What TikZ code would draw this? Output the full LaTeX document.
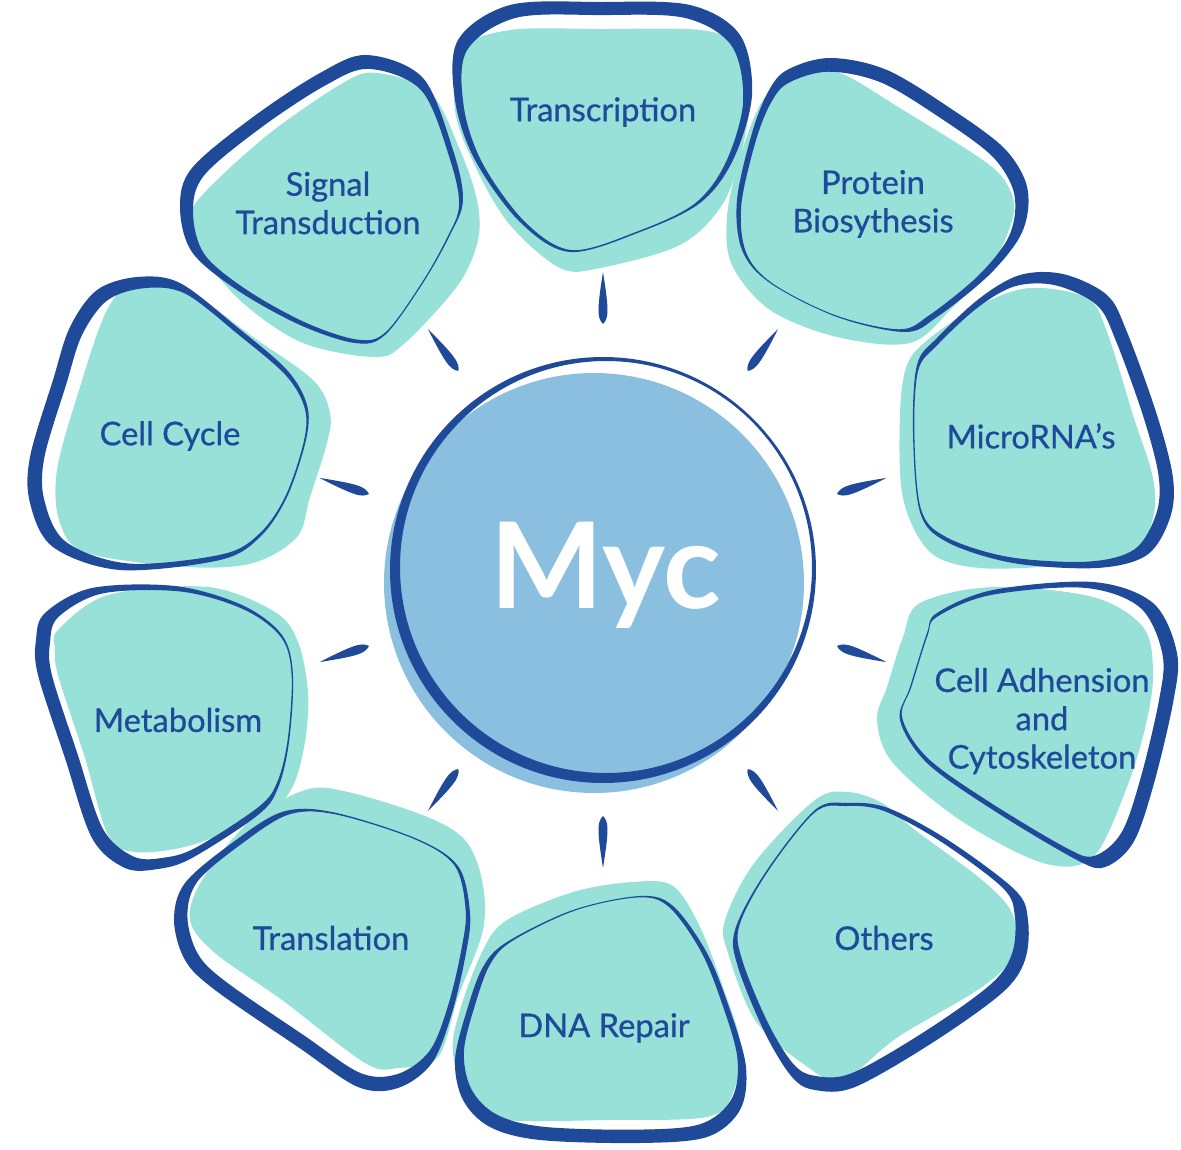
\documentclass[tikz,border=0pt]{standalone}
\usepackage{fontspec}
\setmainfont{Lato}
\newfontfamily\lblfont{Lato}[FakeBold=0.7]
\usetikzlibrary{calc}

\definecolor{mycblue}{HTML}{1F4A9A}
\definecolor{blobteal}{HTML}{97E1D9}
\definecolor{hubblue}{HTML}{8BBFE0}

% #1 angle of the blob, #2 teal patch, #3 brush outline
\newcommand{\blobshape}[3]{%
\fill [blobfill] plot [smooth cycle,tension=.55] coordinates {#2};
\fill [blobline,even odd rule] plot [smooth cycle,tension=.55] coordinates {#3}
  {[scale around={.94:($(hub)+({-(#1)}:350)$)}] plot [smooth cycle,tension=.55] coordinates {#3}};
}

\begin{document}
\begin{tikzpicture}[x=0.1mm,y=-0.1mm,
  blobfill/.style={fill=blobteal},
  blobline/.style={fill=mycblue},
  spoke/.style={fill=mycblue},
  lbl/.style={text=mycblue,align=center,font=\lblfont\fontsize{9.3}{10.9}\selectfont}]

\useasboundingbox (0,0) rectangle (1181,1150);

\coordinate (hub) at (603,570);

% centre
\fill [hubblue] (594,583) circle (210);
\fill [mycblue,even odd rule] (603,570) circle (213) (606,567) circle (206);
\node [text=white,font=\fontsize{34}{34}\selectfont\bfseries,anchor=base] (myc) at (606,608) {Myc};

% blobs
\blobshape{90}{(462,50) (510,30) (600,29) (700,30) (735,45) (750,90) (742,150) (722,205) (680,245) (600,268) (560,268) (510,225) (476,168) (455,110)}
  {(458,40) (510,5) (600,2) (690,5) (740,35) (752,95) (733,160) (700,203) (640,232) (570,252) (520,222) (475,160) (455,100)}
\blobshape{126}{(377,73) (430,92) (460,150) (477,200) (478,240) (458,285) (405,343) (375,357) (303,343) (243,303) (200,252) (190,217) (207,190) (270,133) (343,83)}
  {(367,55) (423,78) (453,150) (463,200) (450,235) (423,283) (385,335) (355,343) (300,325) (237,290) (192,252) (180,207) (192,168) (253,117) (320,73)}
\blobshape{54}{(793,77) (837,72) (903,110) (987,163) (1010,190) (1013,217) (993,263) (953,307) (910,343) (837,337) (770,310) (732,265) (727,217) (740,157) (763,100)}
  {(787,70) (830,58) (887,70) (953,110) (1003,147) (1025,180) (1028,210) (1018,240) (987,277) (937,317) (905,332) (837,317) (770,283) (742,250) (737,200) (752,133) (768,92)}
\blobshape{18}{(1030,288) (1087,298) (1107,332) (1133,415) (1153,478) (1153,518) (1133,552) (1063,565) (980,568) (930,552) (903,498) (900,415) (907,365) (930,338) (980,305)}
  {(1020,275) (1063,274) (1107,295) (1127,332) (1157,415) (1173,478) (1170,518) (1147,555) (1097,568) (1013,563) (947,542) (920,512) (913,432) (917,365) (937,338) (980,298)}
\blobshape{-18}{(920,603) (993,587) (1093,597) (1143,627) (1153,670) (1147,720) (1127,787) (1093,857) (1043,863) (960,820) (893,763) (877,720) (887,687) (903,637)}
  {(937,613) (993,590) (1093,582) (1153,603) (1177,653) (1173,703) (1153,787) (1133,843) (1105,867) (1077,860) (993,810) (927,763) (900,720) (910,687) (927,633)}
\blobshape{-54}{(848,792) (815,800) (755,862) (725,920) (728,953) (755,1020) (802,1063) (842,1080) (898,1037) (982,987) (1015,953) (1012,913) (982,880) (915,830) (882,803)}
  {(848,803) (815,810) (765,873) (735,930) (738,967) (765,1033) (792,1077) (815,1090) (855,1087) (932,1043) (1002,993) (1025,960) (1028,920) (1015,890) (948,840) (888,808)}
\blobshape{-90}{(633,882) (573,892) (507,920) (483,950) (460,1010) (453,1053) (470,1103) (507,1120) (607,1120) (707,1117) (733,1093) (740,1043) (723,987) (700,927) (673,886)}
  {(640,896) (573,910) (507,942) (483,967) (467,1010) (455,1060) (463,1100) (490,1127) (540,1140) (640,1143) (707,1137) (740,1110) (746,1067) (730,1010) (707,953) (673,906)}
\blobshape{-126}{(305,790) (348,792) (425,816) (465,840) (482,880) (483,930) (458,997) (438,1057) (398,1068) (365,1063) (282,1000) (215,953) (190,920) (202,880) (248,823)}
  {(282,812) (332,812) (415,838) (458,866) (470,913) (466,953) (452,1013) (432,1063) (398,1088) (358,1087) (298,1047) (215,990) (185,960) (174,920) (185,883) (232,843)}
\blobshape{-162}{(58,630) (108,595) (208,587) (275,612) (298,642) (308,692) (305,742) (292,788) (265,815) (192,845) (135,852) (108,835) (85,758) (58,675) (55,648)}
  {(45,613) (92,588) (175,586) (242,605) (282,635) (293,675) (289,742) (278,788) (258,815) (192,858) (158,869) (125,868) (92,838) (65,758) (38,675) (36,640)}
\blobshape{162}{(137,280) (187,290) (253,337) (313,380) (330,413) (327,443) (310,497) (297,537) (253,563) (187,567) (87,553) (60,523) (57,470) (80,387) (107,310)}
  {(97,290) (137,277) (180,283) (237,327) (287,370) (307,405) (306,440) (287,497) (260,537) (220,560) (120,570) (53,547) (30,503) (30,457) (53,380) (70,327)}

% spokes
\fill [spoke,shift={(hub)},rotate=90] (246,0) .. controls (252,6) and (260,6) .. (298,0) .. controls (260,-6) and (252,-6) .. cycle;
\fill [spoke,shift={(hub)},rotate=54] (246,0) .. controls (252,6) and (260,6) .. (298,0) .. controls (260,-6) and (252,-6) .. cycle;
\fill [spoke,shift={(hub)},rotate=18] (246,0) .. controls (252,6) and (260,6) .. (298,0) .. controls (260,-6) and (252,-6) .. cycle;
\fill [spoke,shift={(hub)},rotate=-18] (246,0) .. controls (252,6) and (260,6) .. (298,0) .. controls (260,-6) and (252,-6) .. cycle;
\fill [spoke,shift={(hub)},rotate=-54] (246,0) .. controls (252,6) and (260,6) .. (298,0) .. controls (260,-6) and (252,-6) .. cycle;
\fill [spoke,shift={(hub)},rotate=-90] (246,0) .. controls (252,6) and (260,6) .. (298,0) .. controls (260,-6) and (252,-6) .. cycle;
\fill [spoke,shift={(hub)},rotate=-126] (246,0) .. controls (252,6) and (260,6) .. (298,0) .. controls (260,-6) and (252,-6) .. cycle;
\fill [spoke,shift={(hub)},rotate=-162] (246,0) .. controls (252,6) and (260,6) .. (298,0) .. controls (260,-6) and (252,-6) .. cycle;
\fill [spoke,shift={(hub)},rotate=162] (246,0) .. controls (252,6) and (260,6) .. (298,0) .. controls (260,-6) and (252,-6) .. cycle;
\fill [spoke,shift={(hub)},rotate=126] (246,0) .. controls (252,6) and (260,6) .. (298,0) .. controls (260,-6) and (252,-6) .. cycle;

% labels
\node [lbl] (transcription) at (603,112) {Transcription};
\node [lbl] (signal) at (328,203) {Signal\\Transduction};
\node [lbl] (protein) at (873,204) {Protein\\Biosythesis};
\node [lbl] (microrna) at (1031,436) {MicroRNA’s};
\node [lbl] (adhension) at (1042,721) {Cell Adhension\\and\\Cytoskeleton};
\node [lbl] (others) at (884,938) {Others};
\node [lbl] (dnarepair) at (604,1028) {DNA Repair};
\node [lbl] (translation) at (331,938) {Translation};
\node [lbl] (metabolism) at (178,720) {Metabolism};
\node [lbl] (cellcycle) at (170,436) {Cell Cycle};

\end{tikzpicture}
\end{document}
